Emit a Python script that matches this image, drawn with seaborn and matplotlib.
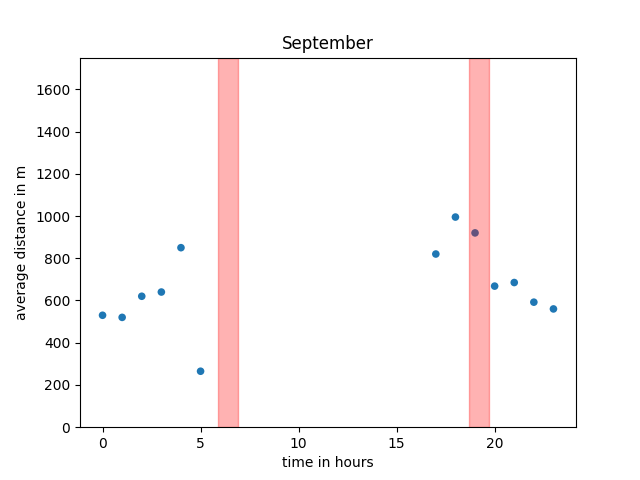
import matplotlib
matplotlib.use("Agg")
import matplotlib.pyplot as plt
import seaborn as sns
import pandas as pd

hours = [0, 1, 2, 3, 4, 5, 17, 18, 19, 20, 21, 22, 23]
distance = [530, 520, 620, 640, 850, 265, 820, 995, 920, 668, 685, 592, 560]
span_starts = [5.9, 18.7]

df = pd.DataFrame({"hour": hours, "distance": distance})

fig, ax = plt.subplots(figsize=(6.4, 4.8), dpi=100)
sns.scatterplot(data=df, x="hour", y="distance", ax=ax, s=30,
                color="#1f77b4", edgecolor="none")
for start in span_starts:
    ax.axvspan(start, start + 1, color="red", alpha=0.3)
ax.set_xlim(-1.15, 24.15)
ax.set_ylim(0, 1750)
ax.set_title("September")
ax.set_xlabel("time in hours")
ax.set_ylabel("average distance in m")
fig.savefig("out.png")
